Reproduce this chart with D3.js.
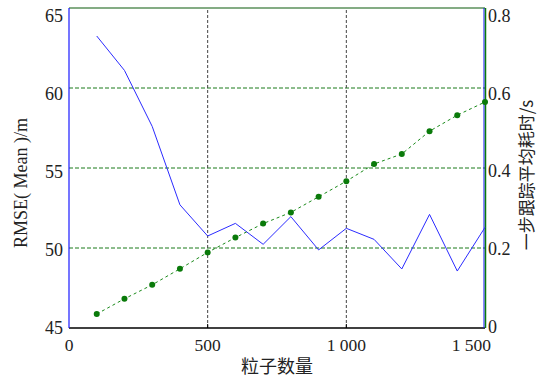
<!DOCTYPE html>
<html>
<head>
<meta charset="utf-8">
<script src="https://cdn.jsdelivr.net/npm/d3@7"></script>
<style>
  body { margin: 0; background: #fff; }
  text { font-family: "Liberation Serif", "DejaVu Serif", serif; fill: #222; }
  .cjk { font-family: "Noto Sans CJK SC", sans-serif; }
</style>
</head>
<body>
<div id="chart"></div>
<script>
var particles = [100, 200, 300, 400, 500, 600, 700, 800, 900, 1000, 1100, 1200, 1300, 1400, 1500];
var rmse = [63.25, 61.1, 57.6, 52.7, 50.75, 51.54, 50.23, 51.96, 49.88, 51.23, 50.54, 48.69, 52.1, 48.56, 51.29];
var stepTime = [0.035, 0.073, 0.108, 0.148, 0.189, 0.226, 0.261, 0.289, 0.328, 0.367, 0.41, 0.435, 0.492, 0.532, 0.565];
var xTicks = [0, 500, 1000, 1500];
var yTicks = [45, 50, 55, 60, 65];
var y2Ticks = [0, 0.2, 0.4, 0.6, 0.8];

var width = 547, height = 379,
    margin = {left: 69, right: 62, top: 8, bottom: 51};

var x = d3.scaleLinear().domain([0, 1500]).range([margin.left, width - margin.right]);
var y = d3.scaleLinear().domain([45, 65]).range([height - margin.bottom, margin.top]);
var y2 = d3.scaleLinear().domain([0, 0.8]).range([height - margin.bottom, margin.top]);

var fmt = d3.formatLocale({decimal: ".", thousands: " ", grouping: [3], currency: ["", ""]}).format(",");

var svg = d3.select("#chart").append("svg")
    .attr("width", width)
    .attr("height", height);

// horizontal grid (green dashed)
svg.selectAll(".hgrid")
    .data(yTicks.slice(1, -1))
  .enter().append("line")
    .attr("x1", x(0)).attr("x2", x(1500))
    .attr("y1", function(d) { return y(d); })
    .attr("y2", function(d) { return y(d); })
    .attr("stroke", "#1a7a1a").attr("stroke-width", 1)
    .attr("stroke-dasharray", "4,2");

// vertical grid (gray dotted)
svg.selectAll(".vgrid")
    .data(xTicks.slice(1, -1))
  .enter().append("line")
    .attr("x1", function(d) { return x(d); })
    .attr("x2", function(d) { return x(d); })
    .attr("y1", y(45)).attr("y2", y(65))
    .attr("stroke", "#444").attr("stroke-width", 1)
    .attr("stroke-dasharray", "3,2");

// frame
svg.append("line").attr("x1", x(0)).attr("x2", x(1500)).attr("y1", y(65)).attr("y2", y(65))
    .attr("stroke", "#0b5a0b").attr("stroke-width", 1.2);
svg.append("line").attr("x1", x(0)).attr("x2", x(1500)).attr("y1", y(45)).attr("y2", y(45))
    .attr("stroke", "#000").attr("stroke-width", 1.5);
svg.append("line").attr("x1", x(0)).attr("x2", x(0)).attr("y1", y(45)).attr("y2", y(65))
    .attr("stroke", "#1a1aff").attr("stroke-width", 1.2);
svg.append("line").attr("x1", x(1500) - 1).attr("x2", x(1500) - 1).attr("y1", y(45)).attr("y2", y(65))
    .attr("stroke", "#1010ff").attr("stroke-width", 1);
svg.append("line").attr("x1", x(1500) + 0.5).attr("x2", x(1500) + 0.5).attr("y1", y(45)).attr("y2", y(65))
    .attr("stroke", "#0a7a0a").attr("stroke-width", 1.5);

// small inner ticks on bottom axis
svg.selectAll(".xtick")
    .data(xTicks.slice(1, -1))
  .enter().append("line")
    .attr("x1", function(d) { return x(d); })
    .attr("x2", function(d) { return x(d); })
    .attr("y1", y(45)).attr("y2", y(45) - 4)
    .attr("stroke", "#000");

// tick labels
svg.selectAll(".xlab")
    .data(xTicks)
  .enter().append("text")
    .attr("x", function(d, i) { return i === xTicks.length - 1 ? x(d) + 6 : x(d); })
    .attr("y", y(45) + 23)
    .attr("text-anchor", function(d, i) { return i === xTicks.length - 1 ? "end" : "middle"; })
    .attr("font-size", 17.5)
    .text(function(d) { return fmt(d); });

// labels sit a little lower near the top, as in the source figure
svg.selectAll(".ylab")
    .data(yTicks)
  .enter().append("text")
    .attr("x", x(0) - 6)
    .attr("y", function(d, i) { return y(d) + 6 + i * 2; })
    .attr("text-anchor", "end")
    .attr("font-size", 18)
    .text(function(d) { return d; });

svg.selectAll(".y2lab")
    .data(y2Ticks)
  .enter().append("text")
    .attr("x", x(1500) + 3)
    .attr("y", function(d, i) { return y2(d) + 5 + i * 2.2; })
    .attr("text-anchor", "start")
    .attr("font-size", 18)
    .text(function(d) { return d; });

// axis titles
svg.append("text")
    .attr("transform", "translate(27," + 183 + ") rotate(-90)")
    .attr("text-anchor", "middle")
    .attr("font-size", 18)
    .text("RMSE( Mean )/m");

svg.append("text")
    .attr("class", "cjk")
    .attr("transform", "translate(533," + 175 + ") rotate(-90)")
    .attr("text-anchor", "middle")
    .attr("font-size", 17)
    .text("一步跟踪平均耗时/s");

svg.append("text")
    .attr("class", "cjk")
    .attr("x", 277).attr("y", 373)
    .attr("text-anchor", "middle")
    .attr("font-size", 18)
    .text("粒子数量");

// RMSE line
var line = d3.line()
    .x(function(d, i) { return x(particles[i]); })
    .y(function(d) { return y(d); });

svg.append("path")
    .datum(rmse)
    .attr("fill", "none")
    .attr("stroke", "#2b2bff")
    .attr("stroke-width", 1)
    .attr("d", line);

// time line
var line2 = d3.line()
    .x(function(d, i) { return x(particles[i]); })
    .y(function(d) { return y2(d); });

svg.append("path")
    .datum(stepTime)
    .attr("fill", "none")
    .attr("stroke", "#1a8a1a")
    .attr("stroke-width", 1)
    .attr("stroke-dasharray", "3,3")
    .attr("d", line2);

svg.selectAll(".dot")
    .data(stepTime)
  .enter().append("circle")
    .attr("cx", function(d, i) { return x(particles[i]); })
    .attr("cy", function(d) { return y2(d); })
    .attr("r", 3)
    .attr("fill", "#0a7a0a");
</script>
</body>
</html>
